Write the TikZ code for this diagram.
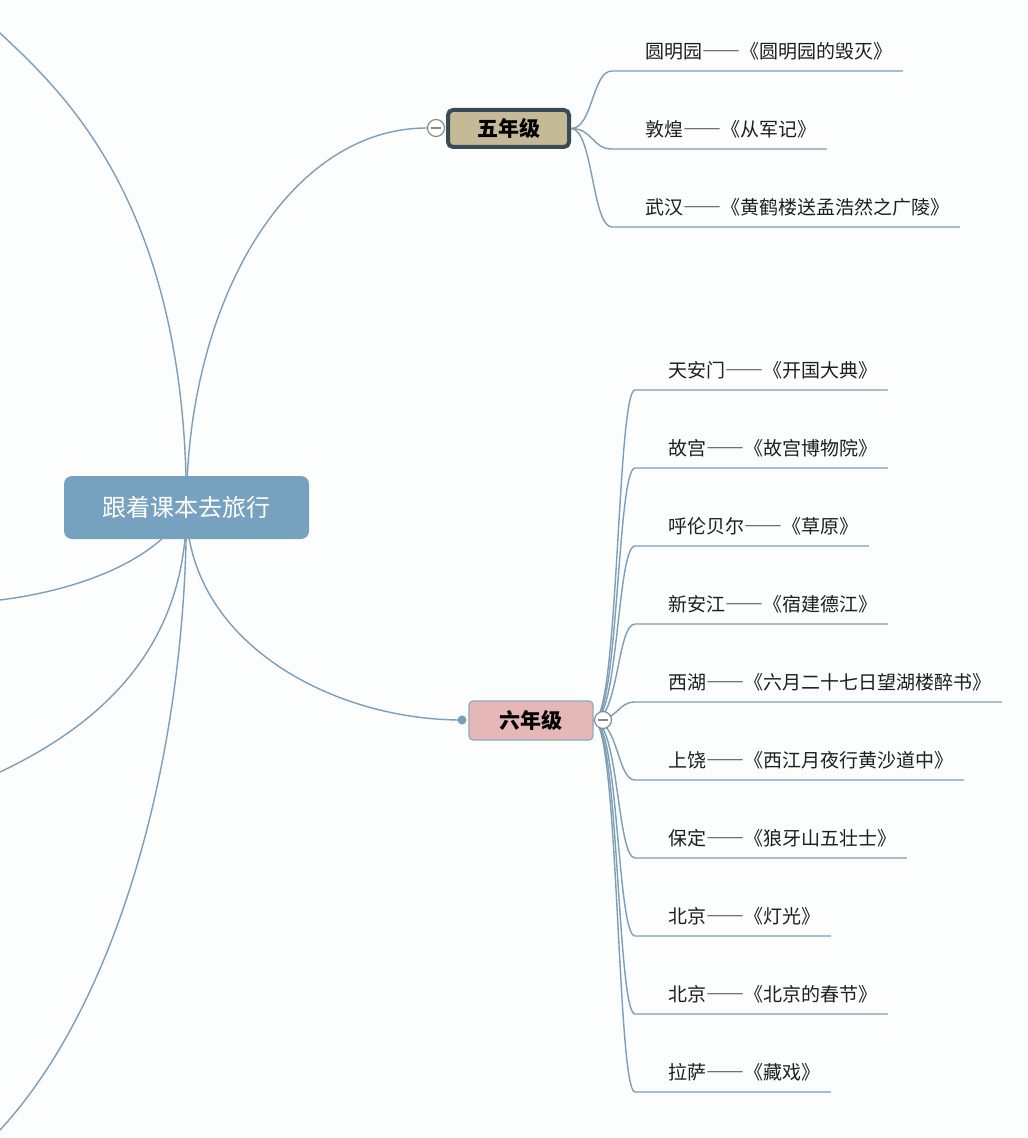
\documentclass[tikz,border=0pt]{standalone}
\usepackage{fontspec}
\setmainfont{Noto Sans CJK SC}
\usepackage{xcolor}
\usepackage{tikz}
\usetikzlibrary{positioning, calc}
\definecolor{branchblue}{HTML}{7C9FB8}
\definecolor{rootblue}{HTML}{77A2BF}
\definecolor{fivetan}{HTML}{C6BA96}
\definecolor{fiveedge}{HTML}{3A4A57}
\definecolor{sixpink}{HTML}{E6B7B7}
\definecolor{sixedge}{HTML}{8EA9C1}
\definecolor{paper}{HTML}{FCFDFD}
\definecolor{inkgray}{HTML}{1E1E1E}
\definecolor{foldgray}{HTML}{8A8A8A}
\pgfdeclarelayer{background}
\pgfsetlayers{background,main}
\newcommand{\wdash}{{\addfontfeature{RawFeature=+fwid}——}}

\begin{document}
\begin{tikzpicture}[
  x=0.5pt, y=-0.5pt,
  topic/.style={rectangle, rounded corners=4pt, fill=rootblue, text=white, minimum width=122.5pt, minimum height=31.5pt, inner sep=0pt, font=\fontsize{12}{14}\selectfont},
  grade/.style={rectangle, inner sep=0pt, text=black, font=\fontsize{10.5}{12}\selectfont\bfseries},
  leaf/.style={anchor=south west, inner xsep=5pt, inner ysep=6pt, text depth=0pt, text=inkgray, font=\fontsize{9.5}{11}\selectfont},
  fold/.style={circle, draw=foldgray, fill=white, line width=0.6pt, minimum size=8.5pt, inner sep=0pt,
    path picture={\draw[foldgray, line width=0.6pt] ([xshift=-2.6pt]path picture bounding box.center) -- ([xshift=2.6pt]path picture bounding box.center);}},
  bline/.style={draw=branchblue, line width=0.7pt},
]
% Page
\useasboundingbox (0,0) rectangle (1027,1138);

% Central topic
\node[topic] (root) at (186.5,507.5) {跟着课本去旅行};

% Grade 5 with its fold button
\node[grade, fill=fivetan, draw=fiveedge, line width=2pt, rounded corners=2.5pt, minimum width=60.5pt, minimum height=18.5pt] (five) at (508.5,128.5) {五年级};
\node[fold] (fivefold) at (436,128) {};

% Grade 6 with its dot and fold button
\node[grade, fill=sixpink, draw=sixedge, line width=0.6pt, rounded corners=2pt, minimum width=62pt, minimum height=19.5pt] (six) at (531,720.5) {六年级};
\node[circle, fill=branchblue, inner sep=0pt, minimum size=4.5pt] (sixdot) at (462,720) {};
\node[fold] (sixfold) at (603,720) {};

% Grade 5 leaves
\node[leaf] (y1) at (635,71) {圆明园\wdash《圆明园的毁灭》};
\node[leaf] (y2) at (635,149) {敦煌\wdash《从军记》};
\node[leaf] (y3) at (635,227) {武汉\wdash《黄鹤楼送孟浩然之广陵》};

% Grade 6 leaves
\node[leaf] (s1) at (658,390) {天安门\wdash《开国大典》};
\node[leaf] (s2) at (658,468) {故宫\wdash《故宫博物院》};
\node[leaf] (s3) at (658,546) {呼伦贝尔\wdash《草原》};
\node[leaf] (s4) at (658,624) {新安江\wdash《宿建德江》};
\node[leaf] (s5) at (658,702) {西湖\wdash《六月二十七日望湖楼醉书》};
\node[leaf] (s6) at (658,780) {上饶\wdash《西江月夜行黄沙道中》};
\node[leaf] (s7) at (658,858) {保定\wdash《狼牙山五壮士》};
\node[leaf] (s8) at (658,936) {北京\wdash《灯光》};
\node[leaf] (s9) at (658,1014) {北京\wdash《北京的春节》};
\node[leaf] (s10) at (658,1092) {拉萨\wdash《藏戏》};

% Branches that leave the page on the left
\coordinate (offa) at (0,33);
\coordinate (offb) at (0,600);
\coordinate (offc) at (0,772);
\coordinate (offd) at (0,1130);

\begin{pgfonlayer}{background}
\fill[paper] (0,0) rectangle (1027,1138);

% root -> grades
\draw[bline] (root.center) .. controls +(0,-207) and +(-138,0) .. (fivefold.west);
\draw[bline] (root.center) .. controls +(0,133) and +(-132,0) .. (sixdot.center);

% root -> off-page topics
\draw[bline] (root.center) .. controls +(0,-307) and +(60,57) .. (offa);
\draw[bline] (root.center) .. controls +(-26,52) and +(80,-10) .. (offb);
\draw[bline] (root.center) .. controls +(0,133) and +(110,-52) .. (offc);
\draw[bline] (root.center) .. controls +(0,243) and +(120,-130) .. (offd);

% grade 5 -> leaves, curve then underline
\draw[bline] (five.east) .. controls +(22,0) and +(-20,0) .. ($(y1.south west)+(-23,0)$) -- (y1.south east);
\draw[bline] (five.east) .. controls +(22,0) and +(-20,0) .. ($(y2.south west)+(-23,0)$) -- (y2.south east);
\draw[bline] (five.east) .. controls +(22,0) and +(-20,0) .. ($(y3.south west)+(-23,0)$) -- (y3.south east);

% grade 6 -> leaves, curve then underline
\draw[bline] (six.east) .. controls +(25,0) and +(-18,0) .. ($(s1.south west)+(-23,0)$) -- (s1.south east);
\draw[bline] (six.east) .. controls +(25,0) and +(-18,0) .. ($(s2.south west)+(-23,0)$) -- (s2.south east);
\draw[bline] (six.east) .. controls +(25,0) and +(-18,0) .. ($(s3.south west)+(-23,0)$) -- (s3.south east);
\draw[bline] (six.east) .. controls +(25,0) and +(-18,0) .. ($(s4.south west)+(-23,0)$) -- (s4.south east);
\draw[bline] (six.east) .. controls +(25,0) and +(-18,0) .. ($(s5.south west)+(-23,0)$) -- (s5.south east);
\draw[bline] (six.east) .. controls +(25,0) and +(-18,0) .. ($(s6.south west)+(-23,0)$) -- (s6.south east);
\draw[bline] (six.east) .. controls +(25,0) and +(-18,0) .. ($(s7.south west)+(-23,0)$) -- (s7.south east);
\draw[bline] (six.east) .. controls +(25,0) and +(-18,0) .. ($(s8.south west)+(-23,0)$) -- (s8.south east);
\draw[bline] (six.east) .. controls +(25,0) and +(-18,0) .. ($(s9.south west)+(-23,0)$) -- (s9.south east);
\draw[bline] (six.east) .. controls +(25,0) and +(-18,0) .. ($(s10.south west)+(-23,0)$) -- (s10.south east);
\end{pgfonlayer}
\end{tikzpicture}
\end{document}
